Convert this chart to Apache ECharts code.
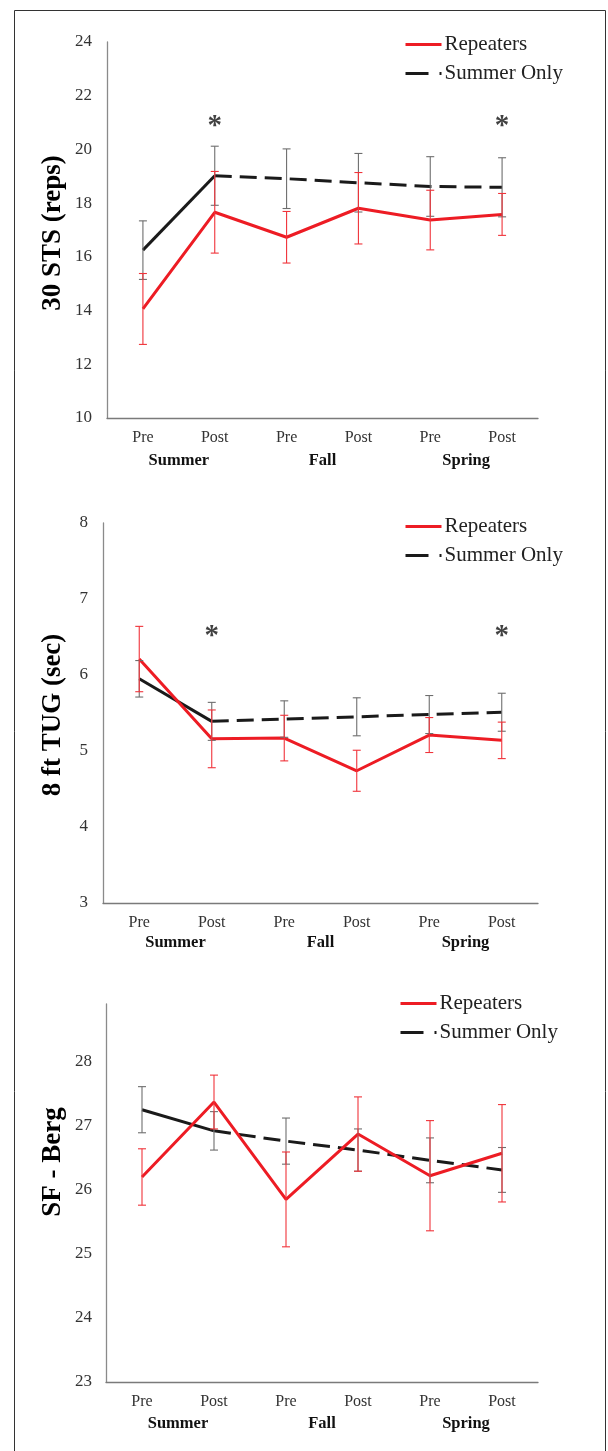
<!DOCTYPE html>
<html>
<head>
<meta charset="utf-8">
<script src="https://cdn.jsdelivr.net/npm/echarts@6/dist/echarts.min.js"></script>
<style>
html,body{margin:0;padding:0;background:#fff;}
#chart{width:608px;height:1451px;}
</style>
</head>
<body>
<div id="chart"></div>
<script>
// ---- data ----
const categories = ['Pre', 'Post', 'Pre', 'Post', 'Pre', 'Post'];
const seasons = ['Summer', 'Fall', 'Spring'];
const seriesNames = ['Repeaters', 'Summer Only'];

// 30 STS (reps)
const stsRepeaters = [14.06, 17.66, 16.73, 17.81, 17.37, 17.58];
const stsRepeatersErr = [1.32, 1.52, 0.96, 1.33, 1.11, 0.78];
const stsSummerOnly = [16.25, 19.02, 18.91, 18.76, 18.62, 18.59];
const stsSummerOnlyErr = [1.09, 1.10, 1.11, 1.09, 1.11, 1.10];
const stsSignificant = [[1, 20.87], [5, 20.87]];
const stsTicks = { min: 10, max: 24, interval: 2 };

// 8 ft TUG (sec)
const tugRepeaters = [6.21, 5.16, 5.17, 4.74, 5.21, 5.14];
const tugRepeatersErr = [0.43, 0.38, 0.30, 0.27, 0.23, 0.24];
const tugSummerOnly = [5.95, 5.39, 5.42, 5.45, 5.48, 5.51];
const tugSummerOnlyErr = [0.24, 0.25, 0.24, 0.25, 0.25, 0.25];
const tugSignificant = [[1, 6.50], [5, 6.50]];
const tugTicks = { min: 3, max: 8, interval: 1 };

// SF - Berg
const bergRepeaters = [26.20, 27.37, 25.85, 26.87, 26.22, 26.57];
const bergRepeatersErr = [0.44, 0.42, 0.74, 0.58, 0.86, 0.76];
const bergSummerOnly = [27.25, 26.92, 26.76, 26.62, 26.46, 26.31];
const bergSummerOnlyErr = [0.36, 0.30, 0.36, 0.33, 0.35, 0.35];
const bergSignificant = [];
const bergTicks = { min: 23, max: 28.9, interval: 1 };

const panels = [
  { title: '30 STS (reps)', rep: stsRepeaters, repErr: stsRepeatersErr, sum: stsSummerOnly, sumErr: stsSummerOnlyErr, sig: stsSignificant, ticks: stsTicks,
    grid: { left: 107, top: 42, width: 431, height: 376 }, legend: { left: 404, top: 34 }, titlePos: [53, 233], seasonOffset: 22, labelMargin: 15 },
  { title: '8 ft TUG (sec)', rep: tugRepeaters, repErr: tugRepeatersErr, sum: tugSummerOnly, sumErr: tugSummerOnlyErr, sig: tugSignificant, ticks: tugTicks,
    grid: { left: 103, top: 523, width: 435, height: 380 }, legend: { left: 404, top: 516 }, titlePos: [53, 715], seasonOffset: 19, labelMargin: 15 },
  { title: 'SF - Berg', rep: bergRepeaters, repErr: bergRepeatersErr, sum: bergSummerOnly, sumErr: bergSummerOnlyErr, sig: bergSignificant, ticks: bergTicks,
    grid: { left: 106, top: 1004, width: 432, height: 378 }, legend: { left: 399, top: 993 }, titlePos: [53, 1162], seasonOffset: 21, labelMargin: 14 }
];

const RED = '#ed1c24';
const BLACK = '#1a1a1a';
const FONT = 'Liberation Serif';

function errorBars(values, errs) {
  return values.map((v, i) => [i, v - errs[i], v + errs[i]]);
}

function errRender(color) {
  return function (params, api) {
    const x = api.value(0);
    const lo = api.coord([x, api.value(1)]);
    const hi = api.coord([x, api.value(2)]);
    const cap = 4;
    const style = { stroke: color, lineWidth: 1.1 };
    return {
      type: 'group',
      children: [
        { type: 'line', shape: { x1: hi[0], y1: hi[1], x2: lo[0], y2: lo[1] }, style: style },
        { type: 'line', shape: { x1: hi[0] - cap, y1: hi[1], x2: hi[0] + cap, y2: hi[1] }, style: style },
        { type: 'line', shape: { x1: lo[0] - cap, y1: lo[1], x2: lo[0] + cap, y2: lo[1] }, style: style }
      ]
    };
  };
}

const grid = [], xAxis = [], yAxis = [], series = [], legend = [], graphic = [];

graphic.push({
  type: 'rect', silent: true, z: 100,
  shape: { x: 14.5, y: 10.5, width: 591, height: 1470 },
  style: { fill: 'none', stroke: '#333', lineWidth: 1 }
});

panels.forEach((p, k) => {
  grid.push(Object.assign({}, p.grid));
  xAxis.push({
    type: 'category', gridIndex: k, data: categories, boundaryGap: true,
    axisLine: { lineStyle: { color: '#7a7a7a', width: 1.3 } },
    axisTick: { show: false },
    axisLabel: { color: '#333', fontFamily: FONT, fontSize: 16, margin: 12 },
    splitLine: { show: false }
  });
  xAxis.push({
    type: 'category', gridIndex: k, data: seasons, position: 'bottom', offset: p.seasonOffset,
    axisLine: { show: false }, axisTick: { show: false },
    axisLabel: { color: '#111', fontFamily: FONT, fontSize: 16.5, fontWeight: 'bold', margin: 12 },
    splitLine: { show: false }
  });
  yAxis.push({
    type: 'value', gridIndex: k, min: p.ticks.min, max: p.ticks.max, interval: p.ticks.interval,
    axisLine: { show: true, lineStyle: { color: '#8a8a8a', width: 1.3 } },
    axisTick: { show: false },
    splitLine: { show: false },
    axisLabel: { color: '#333', fontFamily: FONT, fontSize: 17, margin: p.labelMargin, showMaxLabel: k !== 2 }
  });
  const xi = k * 2;
  // dashed Summer Only (first, so the legend takes its style)
  series.push({
    name: 'Summer Only', type: 'line', xAxisIndex: xi, yAxisIndex: k,
    data: p.sum.map((v, i) => (i >= 1 ? v : '-')),
    symbol: 'none', lineStyle: { color: BLACK, width: 3, type: [17, 8] }, itemStyle: { color: BLACK },
    z: 3, animation: false
  });
  series.push({
    name: 'Summer Only', type: 'line', xAxisIndex: xi, yAxisIndex: k,
    data: p.sum.map((v, i) => (i <= 1 ? v : '-')),
    symbol: 'none', lineStyle: { color: BLACK, width: 3 }, itemStyle: { color: BLACK },
    z: 3, animation: false
  });
  series.push({
    name: 'Repeaters', type: 'line', xAxisIndex: xi, yAxisIndex: k,
    data: p.rep, symbol: 'none',
    lineStyle: { color: RED, width: 3 }, itemStyle: { color: RED },
    z: 4, animation: false
  });
  series.push({
    name: 'err-sum-' + k, type: 'custom', xAxisIndex: xi, yAxisIndex: k,
    data: errorBars(p.sum, p.sumErr), renderItem: errRender('#6e6e6e'),
    encode: { x: 0, y: [1, 2] }, z: 5, silent: true, animation: false
  });
  series.push({
    name: 'err-rep-' + k, type: 'custom', xAxisIndex: xi, yAxisIndex: k,
    data: errorBars(p.rep, p.repErr), renderItem: errRender('#f0333a'),
    encode: { x: 0, y: [1, 2] }, z: 5, silent: true, animation: false
  });
  if (p.sig.length) {
    series.push({
      name: 'sig-' + k, type: 'scatter', xAxisIndex: xi, yAxisIndex: k,
      data: p.sig, symbol: 'circle', symbolSize: 1, itemStyle: { color: 'rgba(0,0,0,0)' },
      label: { show: true, position: 'inside', formatter: '*', color: '#111', fontFamily: FONT, fontSize: 29, fontWeight: 'bold' },
      silent: true, animation: false, z: 6
    });
  }
  legend.push({
    orient: 'vertical', left: p.legend.left, top: p.legend.top, padding: 0,
    data: [
      { name: 'Repeaters', itemStyle: { opacity: 0 }, lineStyle: { width: 3 } },
      { name: 'Summer Only', itemStyle: { opacity: 0 }, lineStyle: { width: 3, type: [23, 11, 3, 100] } }
    ],
    itemWidth: 36, itemHeight: 20, itemGap: 8,
    selectedMode: false,
    textStyle: { fontFamily: FONT, fontSize: 21, color: '#222', padding: [0, 0, 0, -2] }
  });
  graphic.push({
    type: 'text', x: p.titlePos[0], y: p.titlePos[1], rotation: Math.PI / 2,
    style: { text: p.title, font: 'bold 27px "Liberation Serif"', fill: '#000', align: 'center', verticalAlign: 'middle' },
    silent: true
  });
});

const chart = echarts.init(document.getElementById('chart'), null, { renderer: 'canvas' });
chart.setOption({
  backgroundColor: '#fff',
  animation: false,
  grid, xAxis, yAxis, series, legend, graphic
});
</script>
</body>
</html>
